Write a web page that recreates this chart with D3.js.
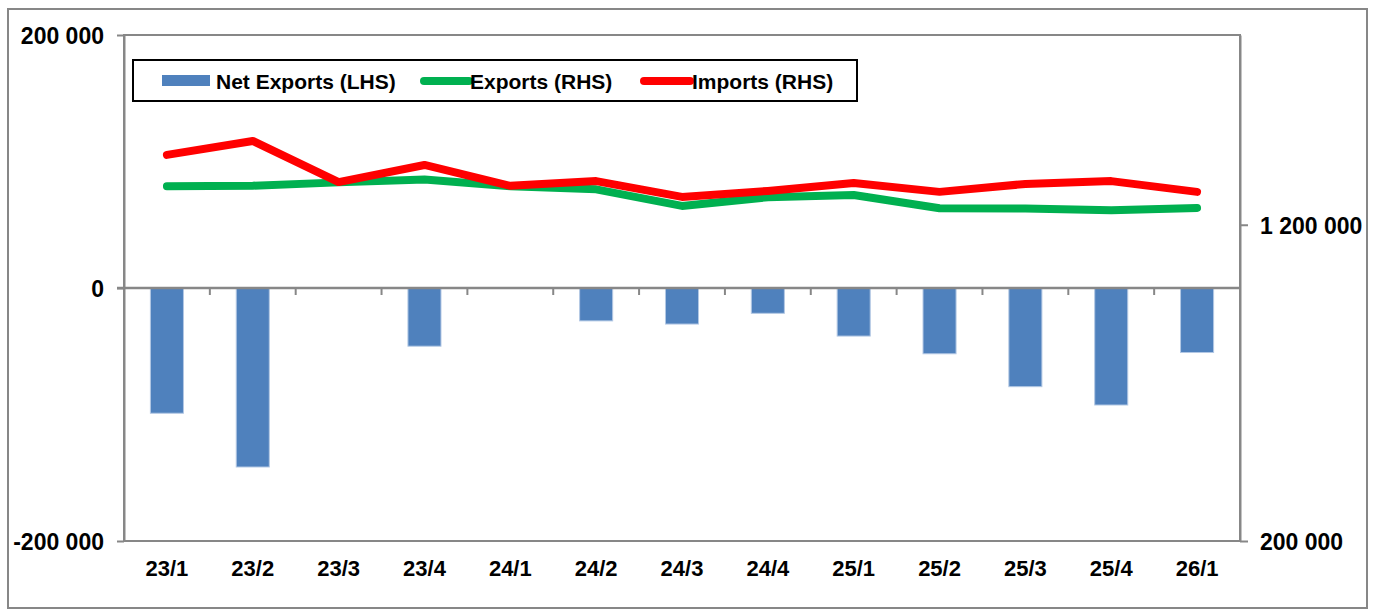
<!DOCTYPE html>
<html>
<head>
<meta charset="utf-8">
<script src="https://cdn.jsdelivr.net/npm/d3@7"></script>
<style>
  body { margin: 0; background: #fff; }
  svg text { font-family: "Liberation Sans", Arial, sans-serif; font-weight: bold; fill: #000; }
</style>
</head>
<body>
<svg id="chart"></svg>
<script>
const CATEGORIES = ['23/1', '23/2', '23/3', '23/4', '24/1', '24/2', '24/3',
                    '24/4', '25/1', '25/2', '25/3', '25/4', '26/1'];

const NET_EXPORTS = [-99000, -141500, 0, -46000, 0, -26000, -28500,
                     -20000, -38000, -52000, -78000, -92500, -51000];
const EXPORTS = [1322000, 1323500, 1334000, 1343000, 1322000, 1312000, 1259500,
                 1287000, 1294000, 1252000, 1251000, 1245500, 1253000];
const IMPORTS = [1421000, 1465000, 1335000, 1389000, 1323000, 1338000, 1288000,
                 1307000, 1332000, 1304000, 1329000, 1338000, 1304000];

const LEFT_TICKS = [-200000, 0, 200000];
const RIGHT_TICKS = [200000, 1200000];

const LEGEND_LABELS = ['Net Exports (LHS)', 'Exports (RHS)', 'Imports (RHS)'];

const WIDTH = 1375;
const HEIGHT = 610;
const PLOT = { left: 124, right: 1240, top: 35, bottom: 541 };

const AXIS_GRAY = '#878787';
const BAR_BLUE = '#4f81bd';
const GREEN = '#00b050';
const RED = '#ff0000';
const FONT = '"Liberation Sans", Arial, sans-serif';

const locale = d3.formatLocale({ decimal: '.', thousands: ' ', grouping: [3], currency: ['', ''], minus: '-' });
const fmt = locale.format(',');

const svg = d3.select('#chart')
              .attr('width', WIDTH)
              .attr('height', HEIGHT);

// outer frame
svg.append('rect')
   .attr('x', 8).attr('y', 9)
   .attr('width', 1359).attr('height', 599)
   .attr('fill', '#fff')
   .attr('stroke', AXIS_GRAY)
   .attr('stroke-width', 2);

const x = d3.scaleBand()
            .domain(CATEGORIES)
            .range([PLOT.left, PLOT.right])
            .padding(0);

const yLeft = d3.scaleLinear()
                .domain([-200000, 200000])
                .range([PLOT.bottom, PLOT.top]);

const yRight = d3.scaleLinear()
                 .domain([200000, 1800000])
                 .range([PLOT.bottom, PLOT.top]);

// plot area border
svg.append('rect')
   .attr('x', PLOT.left).attr('y', PLOT.top)
   .attr('width', PLOT.right - PLOT.left)
   .attr('height', PLOT.bottom - PLOT.top)
   .attr('fill', 'none')
   .attr('stroke', AXIS_GRAY)
   .attr('stroke-width', 2);

// bars
const barW = x.bandwidth() * 0.385;
svg.append('g').selectAll('rect')
   .data(NET_EXPORTS)
   .enter().append('rect')
   .attr('x', (d, i) => x(CATEGORIES[i]) + (x.bandwidth() - barW) / 2)
   .attr('y', d => yLeft(Math.max(0, d)))
   .attr('width', barW)
   .attr('height', d => Math.abs(yLeft(d) - yLeft(0)))
   .attr('fill', BAR_BLUE)
   .attr('stroke', '#b3c8e4')
   .attr('stroke-width', 1);

// category axis on the zero line
const catTicks = CATEGORIES.slice(1).map(c => x(c)).concat([PLOT.right]);
const zeroAxis = svg.append('g')
                    .attr('transform', `translate(0,${yLeft(0)})`);
zeroAxis.append('line')
        .attr('x1', PLOT.left - 7).attr('x2', PLOT.right)
        .attr('stroke', AXIS_GRAY).attr('stroke-width', 2.5);
zeroAxis.selectAll('.ctick')
        .data(catTicks)
        .enter().append('line')
        .attr('class', 'ctick')
        .attr('x1', d => d).attr('x2', d => d)
        .attr('y1', 0).attr('y2', 7)
        .attr('stroke', AXIS_GRAY).attr('stroke-width', 2);

// category labels
const bottomAxis = svg.append('g')
                      .attr('transform', `translate(0,${PLOT.bottom})`)
                      .call(d3.axisBottom(x).tickSize(0));
bottomAxis.select('.domain').remove();
bottomAxis.selectAll('text')
          .attr('y', 27).attr('dy', '0.36em')
          .style('font-size', '22px')
          .style('font-family', FONT)
          .style('font-weight', 'bold');

// left axis
const leftAxis = svg.append('g')
                    .attr('transform', `translate(${PLOT.left},0)`)
                    .call(d3.axisLeft(yLeft).tickValues(LEFT_TICKS).tickFormat(fmt)
                            .tickSize(7).tickSizeOuter(0).tickPadding(13));
leftAxis.select('.domain').attr('stroke', AXIS_GRAY).attr('stroke-width', 2);
leftAxis.selectAll('line').attr('stroke', AXIS_GRAY).attr('stroke-width', 2);
leftAxis.selectAll('text')
        .attr('dy', '0.36em')
        .style('font-size', '23px')
        .style('font-family', FONT)
        .style('font-weight', 'bold');

// right axis
const rightAxis = svg.append('g')
                     .attr('transform', `translate(${PLOT.right},0)`)
                     .call(d3.axisRight(yRight).tickValues(RIGHT_TICKS).tickFormat(fmt)
                             .tickSize(8).tickSizeOuter(0).tickPadding(12));
rightAxis.select('.domain').attr('stroke', AXIS_GRAY).attr('stroke-width', 2);
rightAxis.selectAll('line').attr('stroke', AXIS_GRAY).attr('stroke-width', 2);
rightAxis.selectAll('text')
         .attr('dy', '0.36em')
         .style('font-size', '23px')
         .style('font-family', FONT)
         .style('font-weight', 'bold');

// lines
const line = d3.line()
               .x((d, i) => x(CATEGORIES[i]) + x.bandwidth() / 2)
               .y(d => yRight(d));

[[EXPORTS, GREEN], [IMPORTS, RED]].forEach(([series, color]) => {
  svg.append('path')
     .datum(series)
     .attr('d', line)
     .attr('fill', 'none')
     .attr('stroke', color)
     .attr('stroke-width', 8)
     .attr('stroke-linecap', 'round')
     .attr('stroke-linejoin', 'round');
});

// legend
const legend = svg.append('g');
legend.append('rect')
      .attr('x', 133).attr('y', 60)
      .attr('width', 724).attr('height', 41)
      .attr('fill', '#fff')
      .attr('stroke', '#000')
      .attr('stroke-width', 2);

legend.append('rect')
      .attr('x', 162).attr('y', 75)
      .attr('width', 48).attr('height', 11)
      .attr('fill', BAR_BLUE);

[[424, 469, GREEN], [644, 690, RED]].forEach(([x1, x2, color]) => {
  legend.append('line')
        .attr('x1', x1).attr('x2', x2)
        .attr('y1', 81).attr('y2', 81)
        .attr('stroke', color)
        .attr('stroke-width', 8)
        .attr('stroke-linecap', 'round');
});

legend.selectAll('text')
      .data(LEGEND_LABELS)
      .enter().append('text')
      .attr('x', (d, i) => [216, 470, 692][i])
      .attr('y', 81)
      .attr('dy', '0.36em')
      .style('font-size', '21px')
      .text(d => d);
</script>
</body>
</html>
